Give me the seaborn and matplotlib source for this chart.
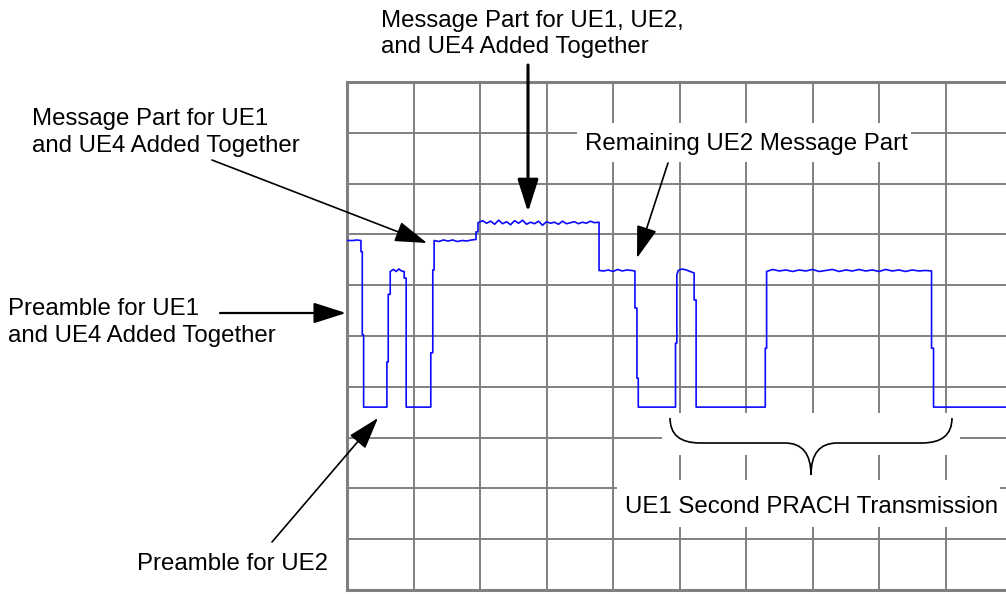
import numpy as np
import matplotlib
matplotlib.use("Agg")
import matplotlib.pyplot as plt
import seaborn as sns
import pandas as pd
from matplotlib.patches import Rectangle, PathPatch
from matplotlib.path import Path

# trace, in divisions (10 x 10 grid)
trace_x = [0.00, 0.10, 0.14, 0.21, 0.21, 0.23, 0.23, 0.25, 0.25,
           0.60, 0.60, 0.62, 0.62, 0.65, 0.65, 0.70, 0.74, 0.78, 0.82, 0.86,
           0.86, 0.89, 0.89,
           1.26, 1.26, 1.29, 1.29, 1.31, 1.31,
           1.38, 1.45, 1.52, 1.59, 1.66, 1.73, 1.80, 1.87, 1.94,
           1.94, 1.97, 1.97,
           2.04, 2.10, 2.16, 2.22, 2.28, 2.34, 2.40, 2.46, 2.52, 2.58, 2.64,
           2.70, 2.76, 2.82, 2.88, 2.94, 3.00, 3.06, 3.12, 3.18, 3.24, 3.30,
           3.36, 3.42, 3.48, 3.54, 3.60, 3.66, 3.72, 3.79,
           3.79, 3.86, 3.93, 4.00, 4.07, 4.14, 4.21, 4.28, 4.33,
           4.33, 4.36, 4.36, 4.38, 4.38,
           4.94, 4.94, 4.96, 4.96, 4.98, 5.04, 5.10, 5.16, 5.22,
           5.22, 5.25, 5.25,
           6.29, 6.29, 6.31, 6.31,
           6.40, 6.50, 6.60, 6.70, 6.80, 6.90, 7.00, 7.10, 7.20, 7.30, 7.40,
           7.50, 7.60, 7.70, 7.80, 7.90, 8.00, 8.10, 8.20, 8.30, 8.40, 8.50,
           8.60, 8.70, 8.79,
           8.79, 8.82, 8.82, 10.0]
trace_y = [6.88, 6.88, 6.89, 6.88, 6.66, 6.66, 5.02, 5.02, 3.60,
           3.60, 4.49, 4.49, 5.82, 5.82, 6.27, 6.31, 6.27, 6.32, 6.28, 6.27,
           6.14, 6.14, 3.60,
           3.60, 4.67, 4.67, 6.30, 6.30, 6.88,
           6.86, 6.89, 6.87, 6.89, 6.86, 6.88, 6.87, 6.89, 6.90,
           7.05, 7.05, 7.23,
           7.27, 7.22, 7.26, 7.20, 7.28, 7.21, 7.25, 7.19, 7.27, 7.22, 7.28,
           7.20, 7.24, 7.21, 7.26, 7.18, 7.25, 7.22, 7.24, 7.20, 7.26, 7.21,
           7.23, 7.25, 7.21, 7.24, 7.22, 7.26, 7.23, 7.24,
           6.29, 6.28, 6.30, 6.27, 6.31, 6.28, 6.30, 6.29, 6.28,
           5.55, 5.55, 4.17, 4.17, 3.60,
           3.60, 4.86, 4.86, 6.20, 6.29, 6.32, 6.30, 6.27, 6.24,
           5.71, 5.71, 3.60,
           3.60, 4.76, 4.76, 6.27,
           6.31, 6.28, 6.30, 6.27, 6.30, 6.28, 6.31, 6.27, 6.29, 6.31, 6.27,
           6.30, 6.28, 6.31, 6.28, 6.30, 6.27, 6.31, 6.28, 6.30, 6.27, 6.30,
           6.28, 6.29, 6.28,
           4.76, 4.76, 3.60, 3.60]

W, H = 1006, 594


def fp(x, y):
    # pixel position (from top-left) -> figure fraction
    return (x / W, 1 - y / H)


sns.set_style("white")
plt.rcParams['font.family'] = ['Liberation Sans', 'DejaVu Sans']

fig = plt.figure(figsize=(W / 100, H / 100), dpi=100)
ax = fig.add_axes([347 / W, 4 / H, 665 / W, 508 / H])

df = pd.DataFrame({'t': trace_x, 'v': trace_y})
sns.lineplot(data=df, x='t', y='v', ax=ax, sort=False, estimator=None,
             color='#0a0aff', linewidth=1.2, zorder=3)

ax.set_xlim(0, 10)
ax.set_ylim(0, 10)
ax.set_xticks(np.arange(0, 11))
ax.set_yticks(np.arange(0, 11))
ax.set_xticklabels([])
ax.set_yticklabels([])
ax.tick_params(length=0)
ax.set_xlabel('')
ax.set_ylabel('')
ax.grid(True, color='#808080', linewidth=1.4)
ax.set_axisbelow(True)
for s in ax.spines.values():
    s.set_color('#808080')
    s.set_linewidth(2.2)

# white backing behind the labels that sit on the grid
for (x0, y0, x1, y1) in [(577, 123, 911, 162), (617, 480, 1000, 527),
                         (662, 413, 960, 455), (800, 455, 822, 480)]:
    fx0, fy1 = fp(x0, y1)
    fx1, fy0 = fp(x1, y0)
    fig.add_artist(Rectangle((fx0, fy1), fx1 - fx0, fy0 - fy1,
                             transform=fig.transFigure, facecolor='white',
                             edgecolor='none', zorder=2))

fs = 17.3
lines = [("Message Part for UE1, UE2,", 381, 27),
         ("and UE4 Added Together", 381, 53),
         ("Message Part for UE1", 32, 125),
         ("and UE4 Added Together", 32, 152),
         ("Preamble for UE1", 8, 315),
         ("and UE4 Added Together", 8, 342),
         ("Preamble for UE2", 137, 570),
         ("Remaining UE2 Message Part", 585, 150),
         ("UE1 Second PRACH Transmission", 625, 513)]
for txt, x, y in lines:
    fig.text(*fp(x, y), txt, fontsize=fs, ha='left', va='baseline',
             color='black', zorder=5)

arrows = [((528, 65), (528, 212), 2.2),
          ((212, 160), (427, 243), 1.2),
          ((668, 163), (637, 258), 1.2),
          ((220, 313), (346, 313), 1.6),
          ((272, 542), (378, 418), 1.2)]
for start, tip, lw in arrows:
    ax.annotate('', xy=fp(*tip), xytext=fp(*start),
                xycoords='figure fraction', textcoords='figure fraction',
                arrowprops=dict(arrowstyle='-|>,head_length=1.0,head_width=0.32',
                                mutation_scale=20, color='black', lw=lw,
                                shrinkA=0, shrinkB=0),
                annotation_clip=False, zorder=6)

# curly brace under the second PRACH transmission
bx = [(670, 418), (670, 443), (700, 443), (785, 443), (811, 443), (811, 475),
      (811, 443), (837, 443), (922, 443), (952, 443), (952, 418)]
codes = [Path.MOVETO, Path.CURVE3, Path.CURVE3, Path.LINETO, Path.CURVE3,
         Path.CURVE3, Path.CURVE3, Path.CURVE3, Path.LINETO, Path.CURVE3,
         Path.CURVE3]
brace = Path([fp(*p) for p in bx], codes)
fig.add_artist(PathPatch(brace, transform=fig.transFigure, facecolor='none',
                         edgecolor='black', lw=1.2, zorder=5))

fig.savefig('out.png', dpi=100)
